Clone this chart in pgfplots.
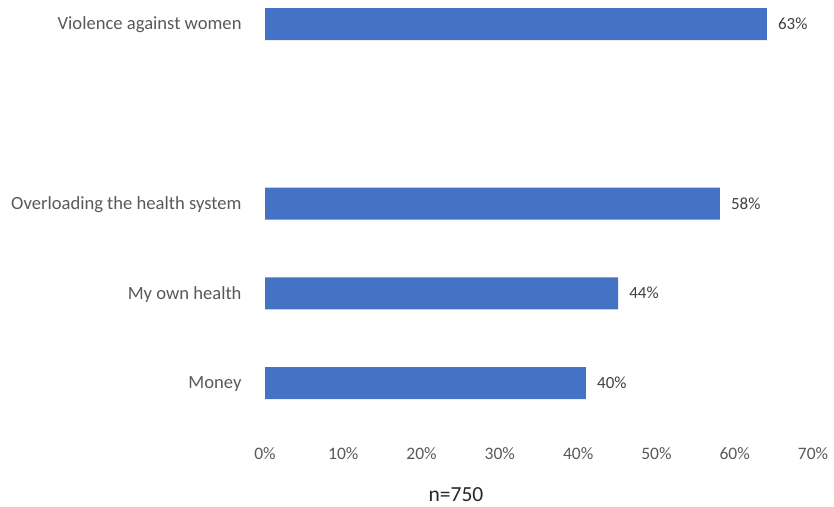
\documentclass[border=0pt]{standalone}
\usepackage{pgfplots}
\pgfplotsset{compat=1.18}
\usepackage{fontspec}
\setmainfont{Carlito}
\definecolor{barblue}{HTML}{4472C4}
\definecolor{lblgray}{HTML}{595959}
\definecolor{valgray}{HTML}{404040}
\begin{document}
\begin{tikzpicture}[x=1pt,y=1pt]
\useasboundingbox (0,0) rectangle (834,-506);
\begin{axis}[
  at={(265pt,-427.875pt)}, anchor=south west,
  scale only axis, width=548pt, height=448.75pt,
  xmin=0, xmax=70, ymin=-0.5, ymax=4.5,
  xbar, bar width=32pt,
  axis line style={draw=none},
  major tick style={draw=none},
  xtick={0,10,...,70},
  xticklabel={\pgfmathprintnumber{\tick}\%},
  ytick={0,1,2,4},
  yticklabels={Money, My own health, Overloading the health system, Violence against women},
  /pgf/number format/assume math mode=true,
  xticklabel style={font=\fontsize{17.5}{20}\selectfont, text=lblgray, inner sep=0pt, yshift=-19pt},
  yticklabel style={font=\fontsize{18.6}{22}\selectfont, text=lblgray, inner sep=0pt, xshift=-19pt, yshift=-1pt},
  clip=false,
  point meta=explicit symbolic,
  nodes near coords,
  nodes near coords style={font=\fontsize{17}{20}\selectfont, text=valgray, anchor=west, inner sep=0pt, xshift=11pt},
]
\addplot[fill=barblue, draw=none] coordinates {
  (41.0,0) [40\%]
  (45.1,1) [44\%]
  (58.1,2) [58\%]
  (64.1,4) [63\%]
};
\end{axis}
\node[font=\fontsize{21.5}{25}\selectfont, text=black!85] at (456pt,-495pt) {n=750};
\end{tikzpicture}
\end{document}
